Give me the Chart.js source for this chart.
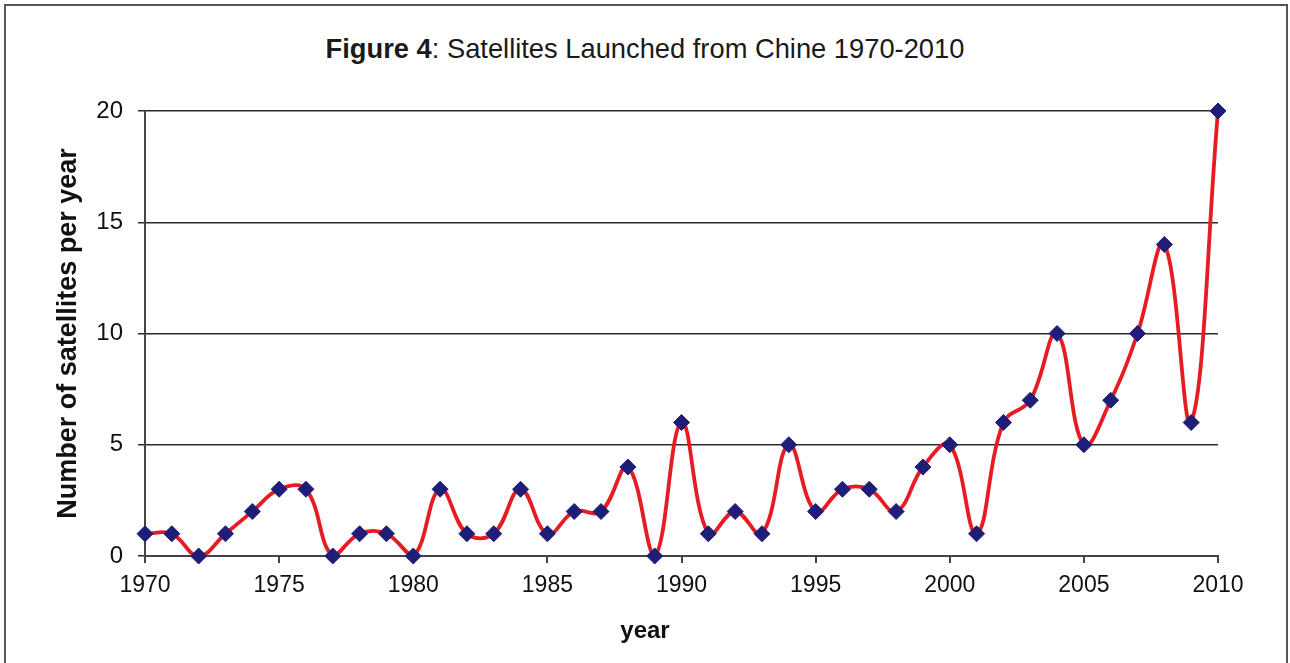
<!DOCTYPE html>
<html>
<head>
<meta charset="utf-8">
<script src="https://cdn.jsdelivr.net/npm/chart.js@4.4.1/dist/chart.umd.min.js"></script>
<style>
  html, body { margin: 0; padding: 0; background: #fff; overflow: hidden; }
  body { width: 1290px; height: 663px; position: relative; }
  #frame { position: absolute; left: 4px; top: 4px; width: 1284px; height: 700px; border: 2px solid #555; box-sizing: border-box; }
  #title { position: absolute; left: 0; width: 1290px; top: 33px; text-align: center; font-family: "Liberation Sans", Arial, sans-serif; font-size: 27.3px; line-height: 32px; color: #1a1a1a; }
  #xtitle { position: absolute; left: 0; width: 1290px; top: 616px; text-align: center; font-family: "Liberation Sans", Arial, sans-serif; font-size: 24px; line-height: 28px; font-weight: bold; color: #111; }
  #wrap { position: absolute; left: 0; top: 0; width: 1290px; height: 663px; }
</style>
</head>
<body>
<div id="frame"></div>
<div id="title"><b>Figure 4</b>: Satellites Launched from Chine 1970-2010</div>
<div id="wrap"><canvas id="c" width="1290" height="663"></canvas></div>
<div id="xtitle">year</div>
<script>
const years = [1970,1971,1972,1973,1974,1975,1976,1977,1978,1979,1980,1981,1982,1983,1984,1985,1986,1987,1988,1989,1990,1991,1992,1993,1994,1995,1996,1997,1998,1999,2000,2001,2002,2003,2004,2005,2006,2007,2008,2009,2010];
const satellites = [1,1,0,1,2,3,3,0,1,1,0,3,1,1,3,1,2,2,4,0,6,1,2,1,5,2,3,3,2,4,5,1,6,7,10,5,7,10,14,6,20];
const yTicks = [0,5,10,15,20];
const xTicks = [1970,1975,1980,1985,1990,1995,2000,2005,2010];

const font = "'Liberation Sans', Arial, sans-serif";
const points = years.map((y, i) => ({ x: y, y: satellites[i] }));

new Chart(document.getElementById('c'), {
  type: 'line',
  data: {
    datasets: [{
      data: points,
      borderColor: '#e61c23',
      borderWidth: 3.8,
      tension: 0.4,
      pointStyle: 'rectRot',
      pointRadius: 8,
      pointHoverRadius: 8,
      pointBackgroundColor: '#1e1e78',
      pointBorderColor: '#1e1e78',
      pointBorderWidth: 1,
      clip: false
    }]
  },
  options: {
    responsive: false,
    animation: false,
    events: [],
    layout: { padding: { top: 111, right: 72, left: 0, bottom: 0 } },
    plugins: { legend: { display: false }, tooltip: { enabled: false }, title: { display: false } },
    scales: {
      x: {
        type: 'linear',
        min: 1970, max: 2010,
        afterBuildTicks: ax => { ax.ticks = xTicks.map(v => ({ value: v })); },
        afterFit: ax => { ax.height = 663 - 556; },
        ticks: { callback: v => String(v), color: '#111', font: { family: font, size: 23 }, padding: 9, maxRotation: 0, autoSkip: false },
        grid: { drawOnChartArea: false, drawTicks: true, tickLength: 7, color: '#444', lineWidth: 2 },
        border: { color: '#444', width: 2 },
        title: { display: false }
      },
      y: {
        min: 0, max: 20,
        afterBuildTicks: ax => { ax.ticks = yTicks.map(v => ({ value: v })); },
        afterFit: ax => { ax.width = 145; },
        ticks: { color: '#111', font: { family: font, size: 24 }, padding: 15 },
        grid: { color: '#2a2a2a', lineWidth: 1.5, tickLength: 7, drawTicks: true },
        border: { color: '#444', width: 2 },
        title: { display: true, text: 'Number of satellites per year', color: '#111', font: { family: font, size: 27, weight: 'bold' }, padding: { top: 52, bottom: 0 } }
      }
    }
  }
});
</script>
</body>
</html>
